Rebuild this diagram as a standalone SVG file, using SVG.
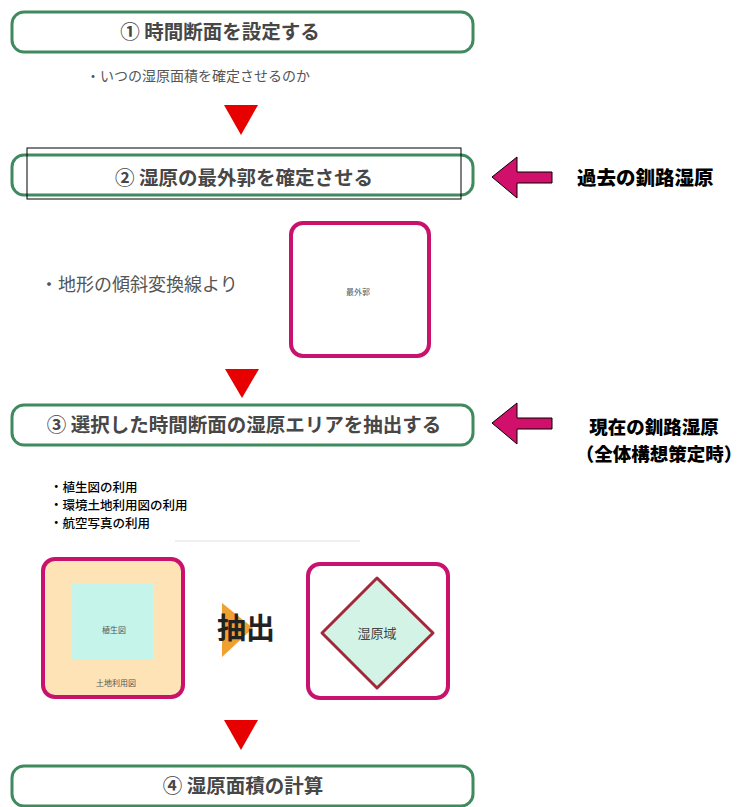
<svg xmlns="http://www.w3.org/2000/svg" width="746" height="807" viewBox="0 0 746 807">
<style>
.step{fill:#fff;stroke:#3f8a5e;stroke-width:3}
.st{font-family:"Noto Sans CJK JP","Noto Sans",sans-serif;font-size:19.5px;font-weight:bold;fill:#474747;text-anchor:middle}
.bul{font-family:"Noto Sans CJK JP","Noto Sans",sans-serif;fill:#555}
.tri{fill:#e60000}
.parr{fill:#d0106a;stroke:#000;stroke-width:1}
.lbl{font-family:"Noto Sans CJK JP","Noto Sans",sans-serif;font-weight:900;fill:#000}
.sm{font-family:"Noto Sans CJK JP","Noto Sans",sans-serif;font-size:8px;fill:#555;text-anchor:middle}
.b3{font-family:"Noto Sans CJK JP","Noto Sans",sans-serif;font-size:12.5px;font-weight:500;fill:#000}
</style>
<rect width="746" height="807" fill="#fff"/>
<g id="step1">
<rect class="step" x="12" y="12" width="461" height="40" rx="12"/>
<text class="st" x="220" y="39">① 時間断面を設定する</text>
</g>
<text class="bul" x="86" y="81" font-size="14">・いつの湿原面積を確定させるのか</text>
<g id="connectors">
<polygon class="tri" points="224,105 258,105 241,135"/>
<polygon class="tri" points="225,369 259,369 242,398"/>
<polygon class="tri" points="224,720 258,720 241,750"/>
<polygon class="parr" points="492,177 517,157 517,172 552,172 552,183 517,183 517,198"/>
<polygon class="parr" points="492,423 517,403 517,418 552,418 552,429 517,429 517,444"/>
</g>
<g id="step2">
<rect class="step" x="12" y="155" width="461" height="40" rx="12"/>
<rect x="27" y="148" width="434" height="51" fill="none" stroke="#000" stroke-width="1"/>
<text class="st" x="244" y="185">② 湿原の最外郭を確定させる</text>
</g>
<g id="label-past"><text class="lbl" x="577" y="185" font-size="19.5">過去の釧路湿原</text></g>
<text class="bul" x="40" y="291" font-size="18">・地形の傾斜変換線より</text>
<g id="outer-box">
<rect x="291" y="223" width="138" height="133" rx="12" fill="#fff" stroke="#c8126e" stroke-width="4"/>
<text class="sm" x="358" y="295">最外郭</text>
</g>
<g id="step3">
<rect class="step" x="12" y="405" width="461" height="40" rx="12"/>
<text class="st" x="244" y="432">③ 選択した時間断面の湿原エリアを抽出する</text>
</g>
<g id="label-now">
<text class="lbl" x="654" y="434" font-size="18.5" text-anchor="middle">現在の釧路湿原</text>
<text class="lbl" x="659" y="461" font-size="18.5" text-anchor="middle">（全体構想策定時）</text>
</g>
<text class="b3" x="50" y="492">・植生図の利用</text>
<text class="b3" x="50" y="510">・環境土地利用図の利用</text>
<text class="b3" x="50" y="528">・航空写真の利用</text>
<line x1="175" y1="541" x2="360" y2="541" stroke="#f0f0f0" stroke-width="2"/>
<g id="landuse">
<rect x="43" y="559" width="140" height="138" rx="12" fill="#fde3b6" stroke="#c8126e" stroke-width="4"/>
<rect x="72" y="583" width="81" height="77" fill="#c4f4ea"/>
<text class="sm" x="114" y="633">植生図</text>
<text class="sm" x="116" y="686">土地利用図</text>
</g>
<g id="extract">
<polygon points="222,603 253,628 222,657" fill="#f0a030"/>
<text x="246" y="639" font-family="'Noto Sans CJK JP','Noto Sans',sans-serif" font-size="29" font-weight="bold" fill="#222" text-anchor="middle">抽出</text>
</g>
<g id="wetland">
<rect x="308" y="564" width="140" height="134" rx="12" fill="#fff" stroke="#c8126e" stroke-width="4"/>
<polygon points="377,578 433,633 377,688 322,633" fill="#d2f3e6" stroke="#a3283a" stroke-width="3" stroke-linejoin="round"/>
<text x="377" y="638" font-family="'Noto Sans CJK JP','Noto Sans',sans-serif" font-size="13" fill="#444" text-anchor="middle">湿原域</text>
</g>
<g id="step4">
<rect class="step" x="12" y="766" width="461" height="40" rx="12"/>
<text class="st" x="243" y="793">④ 湿原面積の計算</text>
</g>
</svg>
